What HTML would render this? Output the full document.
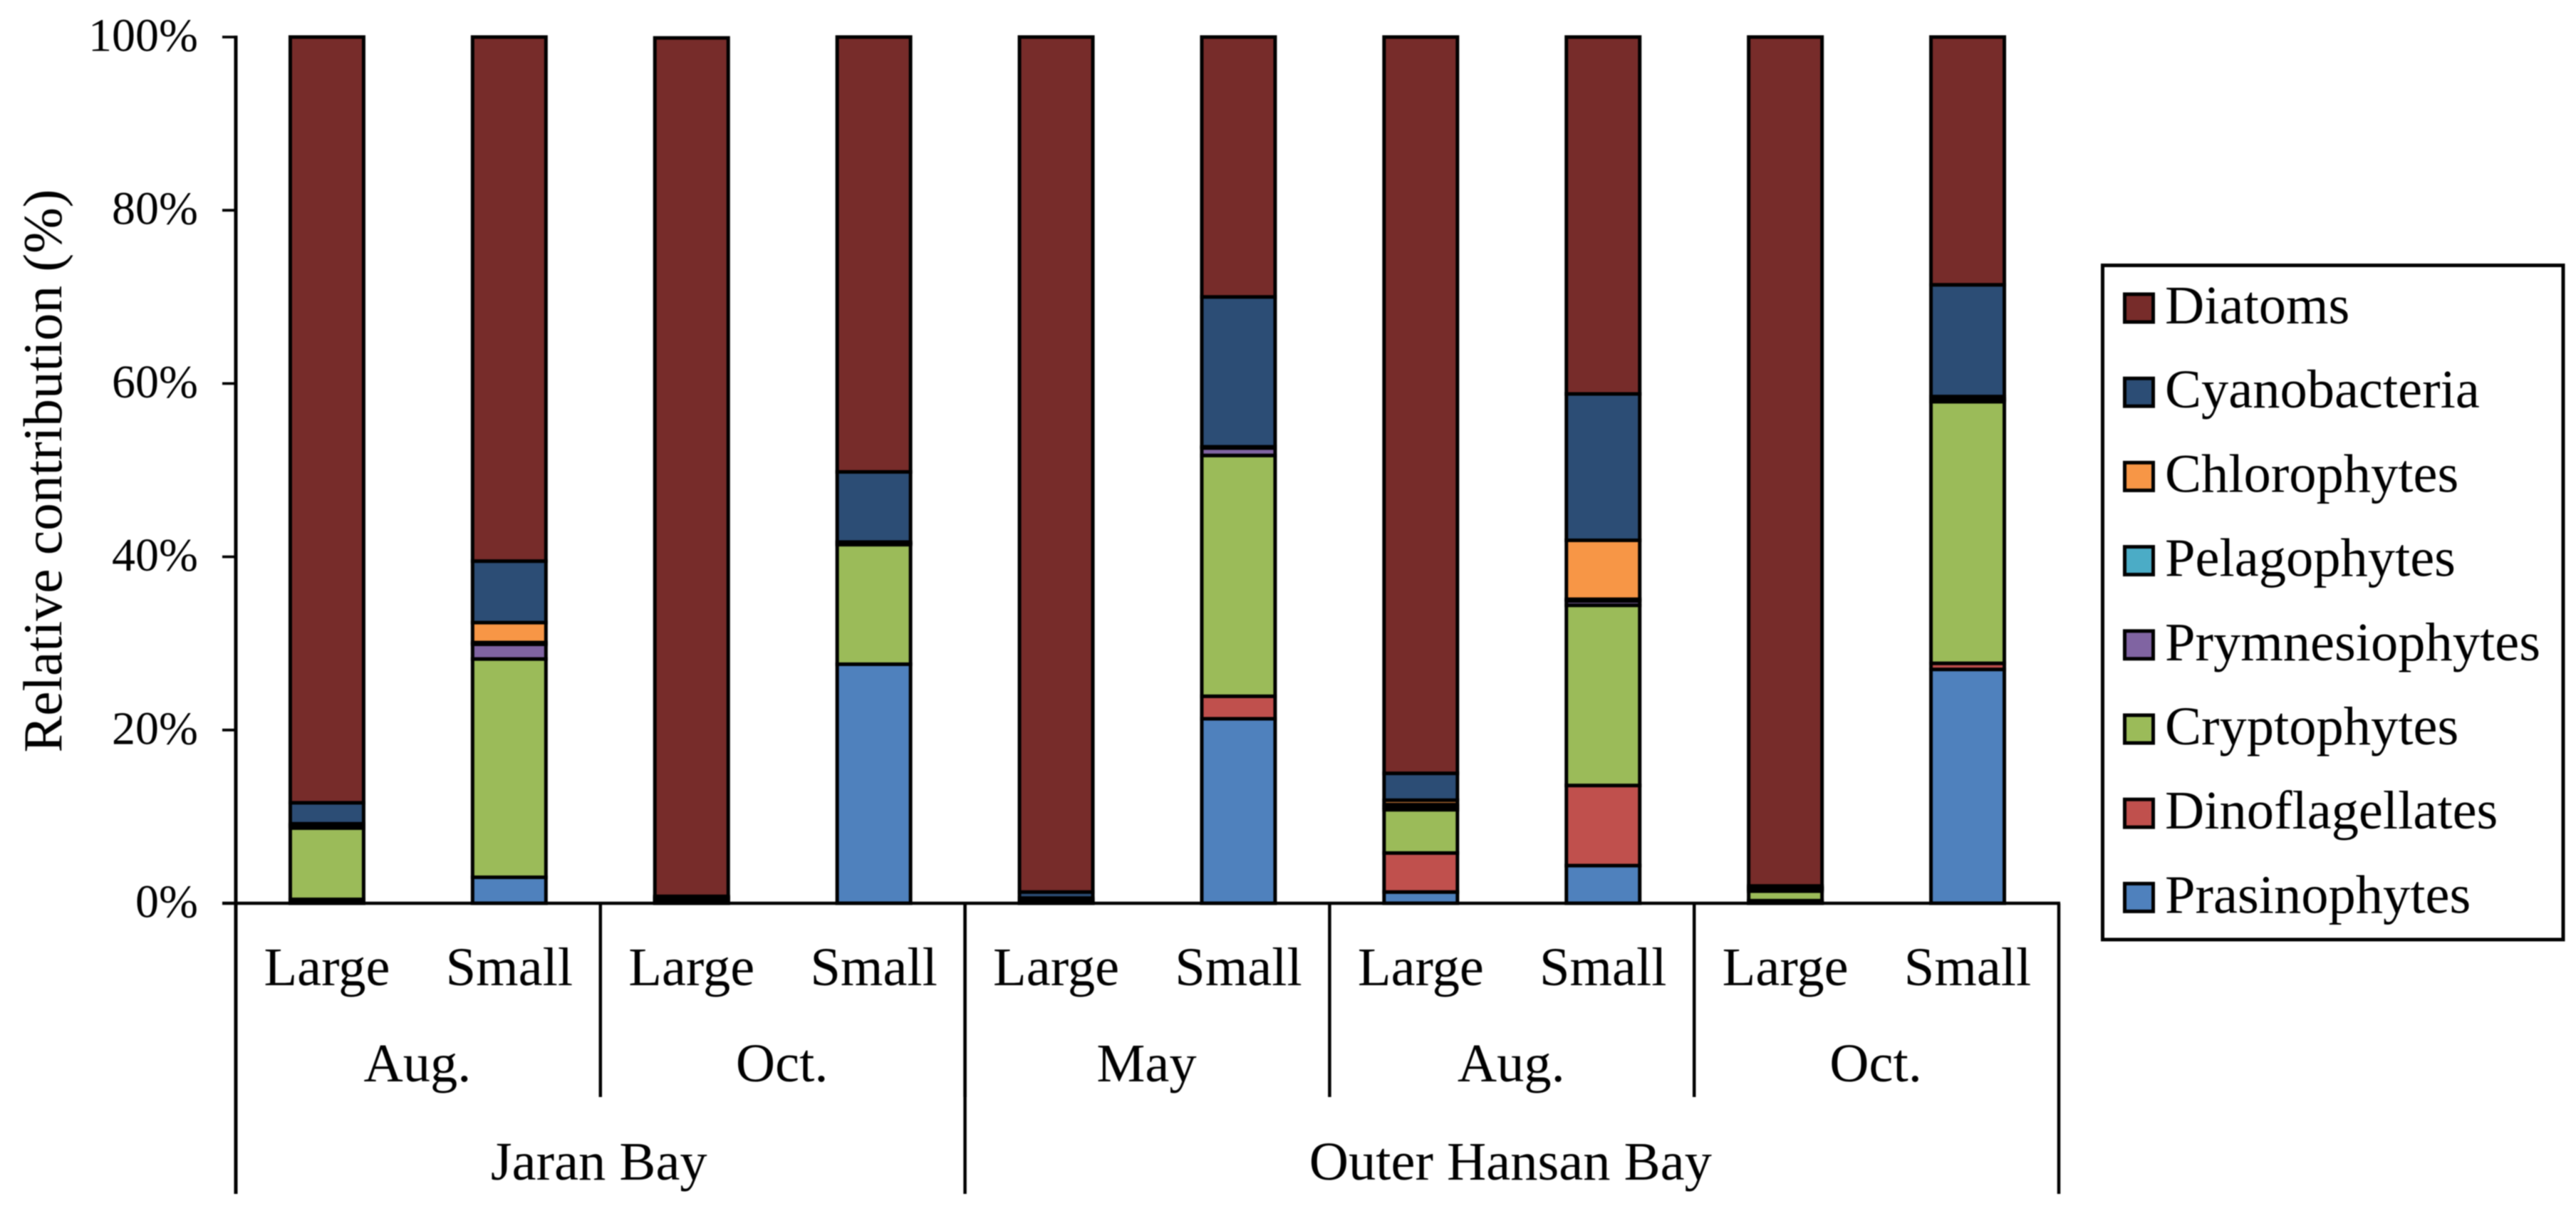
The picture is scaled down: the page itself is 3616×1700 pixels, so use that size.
<!DOCTYPE html>
<html lang="en">
<head>
<meta charset="utf-8">
<title>Relative contribution by phytoplankton group</title>
<style>
  html, body { margin: 0; padding: 0; background: #fff; width: 3616px; height: 1700px; overflow: hidden; }
  svg { display: block; filter: blur(0.9px); }
  text { font-family: "Liberation Serif", serif; fill: #000; }
</style>
</head>
<body>
<svg id="chart" xmlns="http://www.w3.org/2000/svg" width="3616" height="1700" viewBox="0 0 3616 1700"></svg>
<script>
const sizeClasses = ["Large","Small","Large","Small","Large","Small","Large","Small","Large","Small"];
const months = ["Aug.","Oct.","May","Aug.","Oct."];
const sites = ["Jaran Bay","Outer Hansan Bay"];
const sitesSpan = [2,3];
const tickValues = [0,20,40,60,80,100];
const tickLabels = ["0%","20%","40%","60%","80%","100%"];
const seriesNames = ["Prasinophytes","Dinoflagellates","Cryptophytes","Prymnesiophytes","Pelagophytes","Chlorophytes","Cyanobacteria","Diatoms"];
const seriesColors = ["#4F81BD","#C0504D","#9BBB59","#8064A2","#4BACC6","#F79646","#2C4D75","#772C2A"];
const prasinophytes   = [0.1, 3.0, 0.1, 27.6, 0.1, 21.3, 1.3, 4.35, 0.1, 27.0];
const dinoflagellates = [0.35, 0.0, 0.1, 0.0, 0.1, 2.6, 4.5, 9.25, 0.2, 0.7];
const cryptophytes    = [8.23, 25.2, 0.2, 13.8, 0.1, 27.8, 5.0, 20.8, 1.1, 30.2];
const prymnesiophytes = [0.2, 1.7, 0.1, 0.1, 0.1, 0.85, 0.3, 0.5, 0.2, 0.2];
const pelagophytes    = [0.15, 0.2, 0.1, 0.1, 0.1, 0.1, 0.3, 0.2, 0.1, 0.1];
const chlorophytes    = [0.15, 2.3, 0.1, 0.1, 0.1, 0.05, 0.5, 6.8, 0.1, 0.3];
const cyanobacteria   = [2.42, 7.1, 0.1, 8.1, 0.7, 17.3, 3.1, 16.9, 0.2, 12.9];
const diatoms         = [88.4, 60.5, 99.1, 50.2, 98.7, 30.0, 85.0, 41.2, 98.0, 28.6];
const seriesValues = [prasinophytes, dinoflagellates, cryptophytes, prymnesiophytes, pelagophytes, chlorophytes, cyanobacteria, diatoms];

const svg = document.getElementById('chart');
const NS = 'http://www.w3.org/2000/svg';
const plotLeft = 331, plotRight = 2890, plotTop = 52, plotBottom = 1268;
const axisMax = 100;
const catW = (plotRight - plotLeft) / sizeClasses.length;
const yScale = v => plotBottom - (v / axisMax) * (plotBottom - plotTop);
const xCenter = i => plotLeft + catW * (i + 0.5);
const xEdge = i => plotLeft + catW * i;

function mk(tag, attrs, text) {
  const el = document.createElementNS(NS, tag);
  for (const k in attrs) el.setAttribute(k, attrs[k]);
  if (text !== undefined) el.textContent = text;
  svg.appendChild(el);
  return el;
}
function line(x1, y1, x2, y2, w) {
  return mk('line', {x1, y1, x2, y2, stroke: '#000', 'stroke-width': w});
}

// Y-axis title
const yTitle = mk('text', {x: 0, y: 0, 'font-size': 77.4, 'text-anchor': 'middle', transform: 'translate(86 661) rotate(-90)'}, 'Relative contribution (%)');



// Bars
const barW = 103;
sizeClasses.forEach((c, i) => {
  let acc = 0;
  seriesValues.forEach((vals, s) => {
    const y0 = yScale(acc), y1 = yScale(acc + vals[i]);
    acc += vals[i];
    const r = mk('rect', {x: xCenter(i) - barW / 2, y: y1, width: barW, height: Math.max(0, y0 - y1), fill: seriesColors[s], stroke: '#000', 'stroke-width': 5});
    
    
  });
});

// Y axis and ticks
const yAxis = line(plotLeft, plotTop - 2, plotLeft, 1676, 5);


tickValues.forEach((v, i) => {
  const t = line(312, yScale(v), plotLeft, yScale(v), 3.8);
  
  
  const l = mk('text', {x: 278, y: yScale(v) + 19.5, 'font-size': 66, 'text-anchor': 'end'}, tickLabels[i]);
  
  
});

// X axis baseline
const xAxis = line(312, plotBottom, plotRight + 2, plotBottom, 4.5);



// Category labels
sizeClasses.forEach((c, i) => {
  const l = mk('text', {x: xCenter(i), y: 1383, 'font-size': 76.5, 'text-anchor': 'middle'}, c);
  
  
});

// Month labels and dividers (each month spans two categories)
months.forEach((m, i) => {
  const l = mk('text', {x: xEdge(i * 2 + 1) - 1, y: 1518, 'font-size': 76.5, 'text-anchor': 'middle'}, m);
  
  
  if (i < months.length - 1) {
    const d = line(xEdge(i * 2 + 2), plotBottom, xEdge(i * 2 + 2), 1540, 4.5);
    
    
  }
});

// Site labels and dividers
let monthPos = 0;
sites.forEach((s, i) => {
  const start = monthPos * 2, end = (monthPos + sitesSpan[i]) * 2;
  monthPos += sitesSpan[i];
  const l = mk('text', {x: (xEdge(start) + xEdge(end)) / 2 - 2, y: 1656, 'font-size': 76.5, 'text-anchor': 'middle'}, s);
  
  
  const d = line(xEdge(end), plotBottom, xEdge(end), 1676, 4.5);
  
  
});

// Legend
const legendBox = mk('rect', {x: 2951.5, y: 372.5, width: 646.5, height: 946.5, fill: '#fff', stroke: '#000', 'stroke-width': 5});


seriesNames.slice().reverse().forEach((name, i) => {
  const color = seriesColors[seriesNames.length - 1 - i];
  const cy = 432.5 + i * 118.2;
  const sw = mk('rect', {x: 2982.5, y: cy - 19.5, width: 40, height: 39, fill: color, stroke: '#000', 'stroke-width': 5});
  
  
  const t = mk('text', {x: 3039, y: cy + 21.5, 'font-size': 76.5}, name);
  
  
});
</script>
</body>
</html>
